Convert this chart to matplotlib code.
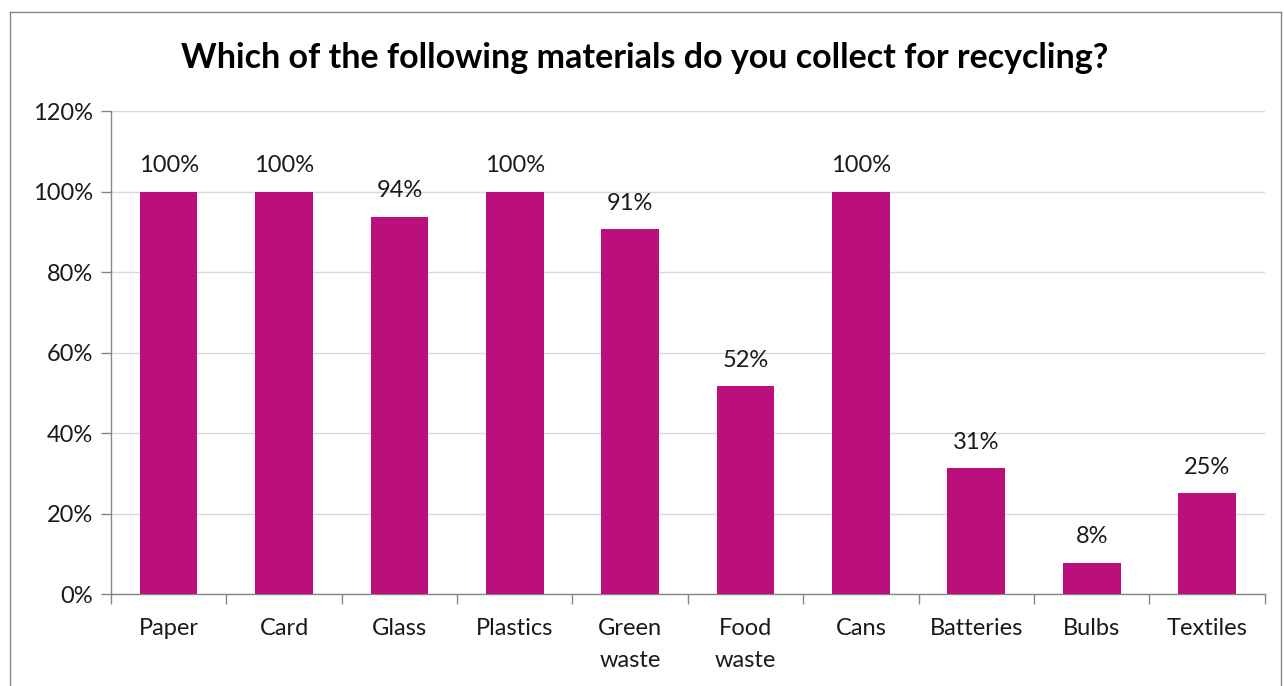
import matplotlib
matplotlib.use("Agg")
import matplotlib.pyplot as plt
from matplotlib.ticker import PercentFormatter, FixedLocator
from matplotlib.lines import Line2D

categories = ["Paper", "Card", "Glass", "Plastics", "Green\nwaste", "Food\nwaste",
              "Cans", "Batteries", "Bulbs", "Textiles"]
values = [1.0, 1.0, 0.9375, 1.0, 0.906, 0.516, 1.0, 0.3125, 0.078, 0.25]

plt.rcParams["font.family"] = ["Lato", "DejaVu Sans"]

fig = plt.figure(figsize=(12.84, 6.86), dpi=100)
ax = fig.add_axes([0.0864, 0.1341, 0.8986, 0.7039])

bar_color = "#BA0F7D"
x = list(range(len(categories)))
ax.bar(x, values, width=0.5, color=bar_color, zorder=3)

for xi, v in zip(x, values):
    ax.annotate(f"{v:.0%}", (xi, v), textcoords="offset points", xytext=(0, 11),
                ha="center", va="bottom", fontsize=17, color="#1a1a1a")

ax.set_xlim(-0.5, len(categories) - 0.5)
ax.set_ylim(0, 1.2)
ax.set_yticks([0, 0.2, 0.4, 0.6, 0.8, 1.0, 1.2])
ax.yaxis.set_major_formatter(PercentFormatter(1.0, decimals=0))
ax.grid(axis="y", color="#d9d9d9", linewidth=1, zorder=0)

ax.set_xticks(x)
ax.set_xticklabels(categories, linespacing=1.6)
ax.xaxis.set_minor_locator(FixedLocator([i - 0.5 for i in range(len(categories) + 1)]))
ax.tick_params(axis="x", which="major", length=0, pad=17.5, labelsize=17, labelcolor="#1a1a1a")
ax.tick_params(axis="x", which="minor", length=7, color="#868686", width=1)
ax.tick_params(axis="y", length=7, color="#868686", width=1, pad=6, labelsize=17,
               labelcolor="#1a1a1a")

for side in ["top", "right"]:
    ax.spines[side].set_visible(False)
for side in ["left", "bottom"]:
    ax.spines[side].set_color("#868686")
    ax.spines[side].set_linewidth(1)

fig.text(0.502, 0.915, "Which of the following materials do you collect for recycling?",
         ha="center", va="center", fontsize=24.5, fontweight="bold", color="#000000")

# chart frame
bx0, by0, bx1 = 10 / 1284, 1 - 12 / 686, 1281 / 1284
for xs, ys in [([bx0, bx0], [-0.01, by0]), ([bx0, bx1], [by0, by0]), ([bx1, bx1], [by0, -0.01])]:
    fig.add_artist(Line2D(xs, ys, color="#868686", linewidth=1, transform=fig.transFigure))

fig.savefig("out.png", dpi=100)
